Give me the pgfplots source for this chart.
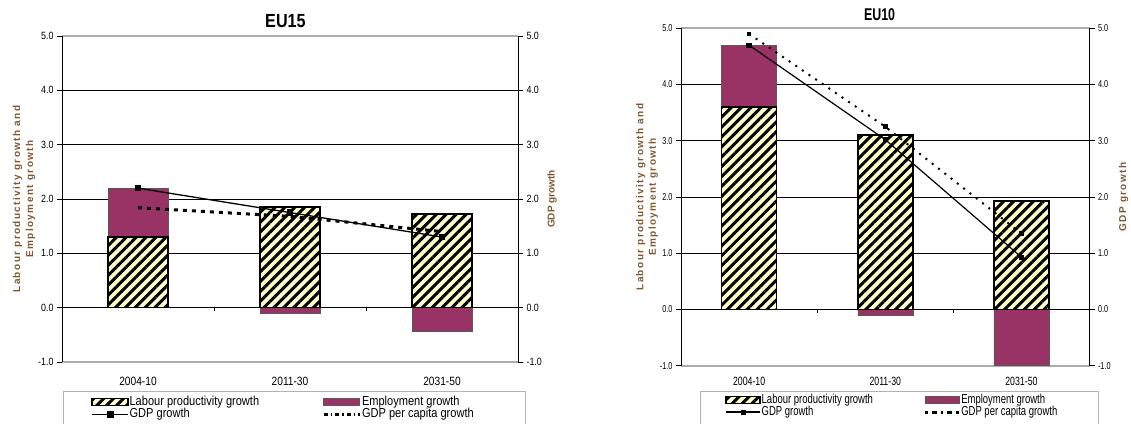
\documentclass[border=0pt]{standalone}
\usepackage{pgfplots}
\pgfplotsset{compat=1.18}
\usetikzlibrary{patterns.meta}
\usepackage{fontspec}
\setmainfont{Liberation Sans}[FakeStretch=0.85]
\newfontfamily\narrowB{Liberation Sans}[FakeStretch=0.73]
\newfontfamily\labfont{Liberation Sans}[LetterSpace=14]
\newfontfamily\labfontR{Liberation Sans}
\definecolor{plum}{RGB}{153,51,102}
\definecolor{hatchbg}{RGB}{255,255,204}
\definecolor{labbrown}{RGB}{128,88,48}
\tikzset{hatchbar/.style={fill=hatchbg, postaction={pattern={Lines[angle=45,distance=7pt,line width=3pt]}}}}
\pgfplotsset{
  commonaxis/.style={
    scale only axis,
    xmin=-0.5, xmax=2.5, ymin=-1, ymax=5,
    ytick={-1,0,1,2,3,4,5},
    tick align=outside, major tick length=5pt,
    y tick style={black, line width=0.8pt},
    /pgf/number format/assume math mode=true,
    yticklabel style={/pgf/number format/fixed, /pgf/number format/fixed zerofill, /pgf/number format/precision=1},
  },
}
\begin{document}
\begin{tikzpicture}[x=1pt,y=1pt]
% ---------------- EU15 ----------------
\begin{axis}[commonaxis,
  at={(62pt,61pt)}, anchor=south west, width=456pt, height=326pt,
  xtick={0,1,2}, xticklabels={2004-10,2011-30,2031-50},
  x tick style={draw=none},
  xticklabel style={font=\fontsize{12}{12}\selectfont, yshift=-7pt},
  yticklabel style={font=\fontsize{10.5}{10.5}\selectfont},
  ytick pos=left,
  separate axis lines,
  x axis line style={draw=gray!65, line width=1.6pt},
  y axis line style={draw=black, line width=1pt},
  ymajorgrids, major grid style={black, line width=0.8pt},
  title={EU15},
  title style={at={(axis description cs:0.49,1)}, anchor=base, yshift=3pt, font=\fontsize{19}{19}\selectfont\bfseries},
  ylabel={Labour productivity growth and\\Employment growth},
  ylabel style={align=center, at={(axis description cs:-0.0833,0.5)}, anchor=center, font=\labfont\fontsize{10}{13}\selectfont\bfseries, text=labbrown},
  legend columns=2, legend cell align=left,
  legend style={draw=none, fill=none, inner sep=0pt, row sep=0pt,
    at={(axis description cs:0.0636,-0.1029)}, anchor=north west,
    nodes={inner sep=0.9pt, text height=8.5pt, text depth=2pt, font=\fontsize{13}{13}\selectfont},
    /tikz/column 2/.style={column sep=62pt}},
]
\addplot[ybar, bar width=60pt, bar shift=0pt, fill=plum, draw=gray!70!black, line width=0.5pt, forget plot]
  coordinates {(0,2.2) (1,-0.1) (2,-0.43)};
\addplot[ybar, bar width=60pt, bar shift=0pt, hatchbar, draw=black, line width=1.6pt, forget plot]
  coordinates {(0,1.3) (1,1.85) (2,1.72)};
\addplot[black, line width=0.8pt, forget plot] coordinates {(0.5,0) (0.5,-0.07)};
\addplot[black, line width=0.8pt, forget plot] coordinates {(1.5,0) (1.5,-0.07)};
\addplot[black, line width=1.3pt, mark=square*, mark size=2.6pt, forget plot]
  coordinates {(0,2.2) (1,1.75) (2,1.3)};
\addplot[black, line width=3pt, dash pattern=on 4pt off 5pt, forget plot]
  coordinates {(0,1.84) (1,1.68) (2,1.4)};
\addlegendimage{legend image code/.code={\draw[hatchbar, draw=black, line width=1.5pt] (0pt,-3.5pt) rectangle (36pt,3.5pt);}}
\addlegendentry{Labour productivity growth}
\addlegendimage{legend image code/.code={\draw[fill=plum, draw=gray!70!black, line width=0.5pt] (0pt,-3.5pt) rectangle (36pt,3.5pt);}}
\addlegendentry{Employment growth}
\addlegendimage{legend image code/.code={\draw[black, line width=1.3pt] (0pt,0pt) -- (36pt,0pt); \fill[black] (15pt,-2.6pt) rectangle (21pt,2.6pt);}}
\addlegendentry{GDP growth}
\addlegendimage{legend image code/.code={\draw[black, line width=3pt, dash pattern=on 4pt off 3pt on 1.5pt off 3pt] (0pt,0pt) -- (36pt,0pt);}}
\addlegendentry{GDP per capita growth}
\end{axis}
\begin{axis}[commonaxis,
  at={(62pt,61pt)}, anchor=south west, width=456pt, height=326pt,
  axis x line=none, axis y line*=right,
  y axis line style={draw=black, line width=1pt},
  yticklabel style={font=\fontsize{10.5}{10.5}\selectfont},
  ylabel={GDP growth},
  ylabel style={at={(axis description cs:1.0746,0.5)}, anchor=center, font=\labfontR\fontsize{10}{12}\selectfont\bfseries, text=labbrown},
]
\end{axis}
\draw[gray!60, line width=0.8pt] (63pt,31.3pt) rectangle (525pt,-10pt);
% ---------------- EU10 ----------------
\begin{axis}[commonaxis,
  at={(681pt,57.3pt)}, anchor=south west, width=408.5pt, height=337.4pt,
  xtick={0,1,2}, xticklabels={2004-10,2011-30,2031-50},
  x tick style={draw=none},
  xticklabel style={font=\narrowB\fontsize{12}{12}\selectfont, yshift=-3pt},
  yticklabel style={font=\narrowB\fontsize{10}{10}\selectfont},
  ytick pos=left,
  separate axis lines,
  x axis line style={draw=gray!65, line width=1.6pt},
  y axis line style={draw=black, line width=1pt},
  ymajorgrids, major grid style={black, line width=0.8pt},
  title={EU10},
  title style={at={(axis description cs:0.486,1)}, anchor=base, yshift=1.8pt, font=\narrowB\fontsize{17}{17}\selectfont\bfseries},
  ylabel={Labour productivity growth and\\Employment growth},
  ylabel style={align=center, at={(axis description cs:-0.0832,0.5)}, anchor=center, font=\labfont\fontsize{10}{12.5}\selectfont\bfseries, text=labbrown},
  legend columns=2, legend cell align=left,
  legend style={draw=none, fill=none, inner sep=0pt, row sep=0pt,
    at={(axis description cs:0.1067,-0.0834)}, anchor=north west,
    nodes={inner sep=0.9pt, text height=8.5pt, text depth=2pt, font=\narrowB\fontsize{13}{13}\selectfont},
    /tikz/column 2/.style={column sep=50pt}},
]
\addplot[ybar, bar width=55pt, bar shift=0pt, fill=plum, draw=gray!70!black, line width=0.5pt, forget plot]
  coordinates {(0,4.7) (1,-0.11) (2,-1.0)};
\addplot[ybar, bar width=55pt, bar shift=0pt, hatchbar, draw=black, line width=1.6pt, forget plot]
  coordinates {(0,3.6) (1,3.1) (2,1.93)};
\addplot[black, line width=0.8pt, forget plot] coordinates {(0.5,0) (0.5,-0.07)};
\addplot[black, line width=0.8pt, forget plot] coordinates {(1.5,0) (1.5,-0.07)};
\addplot[black, line width=1.2pt, mark=square*, mark size=2pt, forget plot]
  coordinates {(0,4.7) (1,3.02) (2,0.93)};
\addplot[black, line width=2pt, dash pattern=on 2pt off 6pt, mark=square*, mark size=1.3pt, mark options={solid}, forget plot]
  coordinates {(0,4.9) (1,3.25) (2,1.35)};
\addlegendimage{legend image code/.code={\draw[hatchbar, draw=black, line width=1.5pt] (0pt,-3.5pt) rectangle (34pt,3.5pt);}}
\addlegendentry{Labour productivity growth}
\addlegendimage{legend image code/.code={\draw[fill=plum, draw=gray!70!black, line width=0.5pt] (0pt,-3.5pt) rectangle (34pt,3.5pt);}}
\addlegendentry{Employment growth}
\addlegendimage{legend image code/.code={\draw[black, line width=2pt] (0pt,0pt) -- (34pt,0pt); \fill[black] (15pt,-2pt) rectangle (19pt,2pt);}}
\addlegendentry{GDP growth}
\addlegendimage{legend image code/.code={\draw[black, line width=2.5pt, dash pattern=on 2.5pt off 4pt on 5pt off 4pt] (0pt,0pt) -- (34pt,0pt);}}
\addlegendentry{GDP per capita growth}
\end{axis}
\begin{axis}[commonaxis,
  at={(681pt,57.3pt)}, anchor=south west, width=408.5pt, height=337.4pt,
  axis x line=none, axis y line*=right,
  y axis line style={draw=black, line width=1pt},
  yticklabel style={font=\narrowB\fontsize{10}{10}\selectfont},
  ylabel={GDP growth},
  ylabel style={at={(axis description cs:1.0832,0.5)}, anchor=center, font=\labfont\fontsize{10}{12}\selectfont\bfseries, text=labbrown},
]
\end{axis}
\draw[gray!60, line width=0.8pt] (700.6pt,31.3pt) rectangle (1098pt,-10pt);
\pgfresetboundingbox
\path[use as bounding box] (0pt,0pt) rectangle (1131pt,423pt);
\end{tikzpicture}
\end{document}
